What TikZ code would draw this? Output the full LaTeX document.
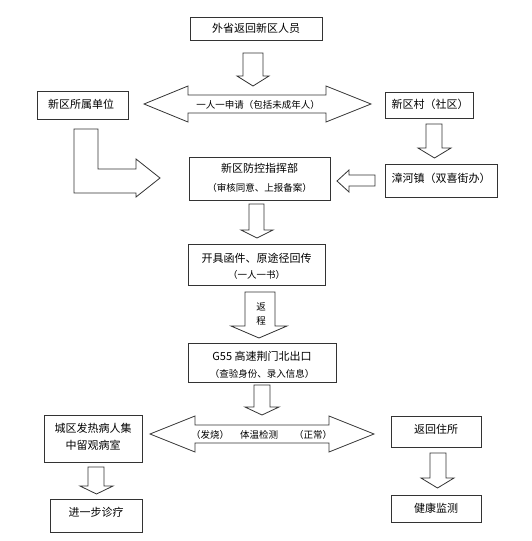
\documentclass[tikz,border=0pt]{standalone}
\usepackage{fontspec}
\setmainfont{Noto Sans CJK SC}
\begin{document}
\begin{tikzpicture}[x=1pt,y=-1pt,
  box/.style={draw=black!80,line width=0.8pt,rectangle,inner sep=0pt,font=\fontsize{11}{13}\selectfont,align=center},
  blk/.style={draw=black!80,line width=0.8pt,fill=white,line join=miter},
  lbl/.style={inner sep=0pt,font=\fontsize{11}{13}\selectfont},
  sml/.style={inner sep=0pt,font=\fontsize{9.5}{11}\selectfont}]
\useasboundingbox (0,0) rectangle (531,541);
% boxes
\node[box,minimum width=132pt,minimum height=23pt] (A) at (256,28.5) {外省返回新区人员};
\node[box,minimum width=91pt,minimum height=28pt] (B) at (82.5,105) {};
\node[lbl] at (81,104) {新区所属单位};
\node[box,minimum width=88pt,minimum height=26pt] (C) at (429,105) {};
\node[lbl] at (430,104) {新区村（社区）};
\node[box,minimum width=112pt,minimum height=33pt] (D) at (441,180.5) {};
\node[lbl] at (441,178) {漳河镇（双喜街办）};
\node[box,minimum width=141pt,minimum height=43pt] (E) at (259.5,178.5) {};
\node[lbl] at (259.5,168) {新区防控指挥部};
\node[sml] at (259.5,187.5) {（审核同意、上报备案）};
\node[box,minimum width=137pt,minimum height=41pt] (F) at (256.5,264.5) {};
\node[lbl] at (256.5,258) {开具函件、原途径回传};
\node[sml] at (256.5,274.5) {（一人一书）};
\node[box,minimum width=148pt,minimum height=39pt] (G) at (262,362.5) {};
\node[lbl] at (262,356) {G55 高速荆门北出口};
\node[sml] at (262,373.5) {（查验身份、录入信息）};
\node[box,minimum width=98pt,minimum height=47pt] (H) at (93,438.5) {};
\node[lbl] at (93,428) {城区发热病人集};
\node[lbl] at (93,445.5) {中留观病室};
\node[box,minimum width=90pt,minimum height=31pt] (I) at (436,431.5) {};
\node[lbl] at (436,429) {返回住所};
\node[box,minimum width=92pt,minimum height=33pt] (J) at (96,515.5) {};
\node[lbl] at (96,512.5) {进一步诊疗};
\node[box,minimum width=90pt,minimum height=27pt] (K) at (436,508.5) {};
\node[lbl] at (436,508) {健康监测};
% block arrows
% A -> double arrow
\draw[blk] (243,53) -- (263,53) -- (263,76) -- (269,76) -- (253,86) -- (237,76) -- (243,76) -- cycle;
% double arrow 1
\draw[blk] (144,104) -- (188,86) -- (188,95) -- (326,95) -- (326,86) -- (371,104) -- (326,122) -- (326,113) -- (188,113) -- (188,122) -- cycle;
\node[sml] at (258,105) {一人一申请（包括未成年人）};
% C -> D
\draw[blk] (426,124) -- (442,124) -- (442,148) -- (451,148) -- (434.5,158) -- (418,148) -- (426,148) -- cycle;
% D -> E
\draw[blk] (375,175) -- (349,175) -- (349,170) -- (337,181) -- (349,192) -- (349,186) -- (375,186) -- cycle;
% L arrow B -> E
\draw[blk] (74,129) -- (98,129) -- (98,169) -- (136,169) -- (136,159) -- (160,178) -- (136,197) -- (136,193) -- (74,193) -- cycle;
% E -> F
\draw[blk] (249,204) -- (264,204) -- (264,230) -- (273,230) -- (257,238) -- (241,230) -- (249,230) -- cycle;
% F -> G (return)
\draw[blk] (245,292) -- (275,292) -- (275,326) -- (287,326) -- (259,338) -- (231,326) -- (245,326) -- cycle;
\node[sml] at (261,307) {返};
\node[sml] at (261,321) {程};
% G -> double arrow 2
\draw[blk] (254,385) -- (270,385) -- (270,407) -- (279,407) -- (262,415) -- (245,407) -- (254,407) -- cycle;
% double arrow 2
\draw[blk] (150,434) -- (195,416) -- (195,425) -- (329,425) -- (329,416) -- (374,434) -- (329,452) -- (329,443) -- (195,443) -- (195,452) -- cycle;
\node[sml] at (210,435) {（发烧）};
\node[sml] at (259,435) {体温检测};
\node[sml] at (313,435) {（正常）};
% H -> J
\draw[blk] (88,467) -- (104,467) -- (104,486) -- (113,486) -- (96.5,494) -- (80,486) -- (88,486) -- cycle;
% I -> K
\draw[blk] (430,453) -- (446,453) -- (446,478) -- (454,478) -- (437.5,488) -- (421,478) -- (430,478) -- cycle;
\end{tikzpicture}
\end{document}
